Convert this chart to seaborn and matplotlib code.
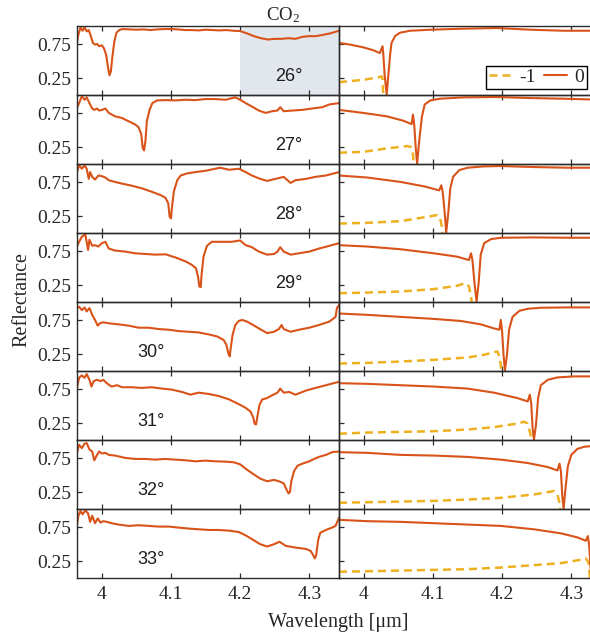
import matplotlib
matplotlib.use("Agg")
import matplotlib.pyplot as plt
import seaborn as sns
from matplotlib.lines import Line2D

# ---------------- data ----------------
angles = [26, 27, 28, 29, 30, 31, 32, 33]
angle_labels = ["26°", "27°", "28°", "29°", "30°", "31°", "32°", "33°"]
xticks = [4.0, 4.1, 4.2, 4.3]
xtick_labels = ["4", "4.1", "4.2", "4.3"]
yticks = [0.25, 0.75]
ytick_labels = ["0.25", "0.75"]
legend_labels = ["-1", "0"]
co2_band = [4.2, 4.343]

# measured reflectance (left column)
meas_wl_26 = [3.964, 3.966, 3.969, 3.972, 3.975, 3.978, 3.981, 3.984, 3.987, 3.990, 3.993, 3.996, 4.000, 4.003, 4.006, 4.009, 4.011, 4.013, 4.015, 4.018, 4.021, 4.025, 4.030, 4.040, 4.050, 4.060, 4.070, 4.080, 4.090, 4.100, 4.110, 4.120, 4.130, 4.140, 4.150, 4.160, 4.170, 4.180, 4.190, 4.200, 4.210, 4.220, 4.230, 4.240, 4.250, 4.260, 4.270, 4.280, 4.290, 4.300, 4.310, 4.320, 4.330, 4.343]
meas_r_26 = [0.77, 0.89, 1.00, 0.95, 1.00, 0.94, 0.96, 0.87, 0.77, 0.745, 0.755, 0.72, 0.735, 0.69, 0.60, 0.40, 0.29, 0.35, 0.55, 0.79, 0.92, 0.96, 0.975, 0.97, 0.965, 0.97, 0.96, 0.97, 0.975, 0.975, 0.97, 0.96, 0.96, 0.955, 0.965, 0.96, 0.955, 0.96, 0.95, 0.945, 0.91, 0.87, 0.84, 0.82, 0.83, 0.83, 0.84, 0.83, 0.86, 0.87, 0.87, 0.89, 0.91, 0.95]

meas_wl_27 = [3.964, 3.967, 3.971, 3.975, 3.978, 3.982, 3.986, 3.989, 3.993, 3.996, 4.000, 4.005, 4.010, 4.019, 4.029, 4.039, 4.048, 4.053, 4.057, 4.059, 4.061, 4.063, 4.065, 4.069, 4.073, 4.080, 4.092, 4.106, 4.121, 4.135, 4.150, 4.164, 4.179, 4.193, 4.200, 4.208, 4.217, 4.227, 4.237, 4.246, 4.254, 4.258, 4.263, 4.275, 4.290, 4.304, 4.319, 4.329, 4.343]
meas_r_27 = [0.83, 0.90, 1.00, 0.95, 0.985, 0.90, 0.82, 0.80, 0.82, 0.79, 0.80, 0.82, 0.755, 0.705, 0.68, 0.63, 0.585, 0.545, 0.44, 0.24, 0.20, 0.34, 0.63, 0.80, 0.90, 0.94, 0.945, 0.94, 0.95, 0.945, 0.96, 0.96, 0.95, 0.985, 0.95, 0.90, 0.85, 0.79, 0.755, 0.78, 0.79, 0.84, 0.78, 0.79, 0.80, 0.82, 0.84, 0.88, 0.90]

meas_wl_28 = [3.964, 3.967, 3.971, 3.975, 3.978, 3.981, 3.983, 3.986, 3.990, 3.995, 4.000, 4.005, 4.010, 4.019, 4.029, 4.043, 4.058, 4.072, 4.085, 4.092, 4.096, 4.098, 4.100, 4.101, 4.104, 4.109, 4.114, 4.123, 4.135, 4.150, 4.164, 4.171, 4.184, 4.198, 4.208, 4.217, 4.229, 4.239, 4.251, 4.263, 4.273, 4.280, 4.295, 4.309, 4.324, 4.343]
meas_r_28 = [0.90, 1.00, 0.95, 1.00, 0.95, 0.80, 0.90, 0.83, 0.79, 0.85, 0.84, 0.82, 0.78, 0.755, 0.73, 0.70, 0.66, 0.61, 0.56, 0.52, 0.44, 0.24, 0.215, 0.34, 0.61, 0.78, 0.85, 0.88, 0.90, 0.92, 0.95, 0.965, 0.935, 0.95, 0.90, 0.85, 0.80, 0.77, 0.80, 0.83, 0.74, 0.78, 0.80, 0.83, 0.85, 0.90]

meas_wl_29 = [3.964, 3.967, 3.971, 3.976, 3.980, 3.982, 3.986, 3.990, 3.995, 4.000, 4.005, 4.010, 4.019, 4.034, 4.048, 4.063, 4.077, 4.092, 4.106, 4.121, 4.130, 4.136, 4.139, 4.141, 4.143, 4.144, 4.147, 4.152, 4.159, 4.174, 4.188, 4.200, 4.208, 4.217, 4.227, 4.239, 4.249, 4.254, 4.258, 4.263, 4.273, 4.285, 4.300, 4.314, 4.329, 4.343]
meas_r_29 = [0.82, 0.89, 0.965, 1.00, 0.77, 0.92, 0.83, 0.84, 0.82, 0.87, 0.89, 0.79, 0.76, 0.745, 0.72, 0.71, 0.70, 0.705, 0.66, 0.60, 0.55, 0.50, 0.38, 0.23, 0.22, 0.38, 0.67, 0.83, 0.89, 0.89, 0.89, 0.91, 0.84, 0.81, 0.745, 0.70, 0.71, 0.745, 0.81, 0.745, 0.70, 0.72, 0.745, 0.79, 0.83, 0.87]

meas_wl_30 = [3.964, 3.967, 3.971, 3.975, 3.978, 3.982, 3.986, 3.990, 3.994, 3.997, 4.002, 4.010, 4.024, 4.039, 4.053, 4.068, 4.082, 4.097, 4.111, 4.126, 4.140, 4.155, 4.167, 4.176, 4.180, 4.183, 4.185, 4.186, 4.189, 4.193, 4.198, 4.203, 4.210, 4.217, 4.227, 4.239, 4.249, 4.256, 4.260, 4.263, 4.273, 4.285, 4.300, 4.314, 4.329, 4.338, 4.340, 4.343]
meas_r_30 = [0.93, 0.95, 0.90, 0.94, 0.88, 0.93, 0.83, 0.755, 0.67, 0.705, 0.72, 0.705, 0.69, 0.67, 0.64, 0.64, 0.62, 0.61, 0.59, 0.58, 0.57, 0.54, 0.51, 0.46, 0.39, 0.26, 0.215, 0.31, 0.53, 0.68, 0.74, 0.755, 0.73, 0.69, 0.63, 0.56, 0.58, 0.62, 0.68, 0.62, 0.58, 0.61, 0.64, 0.68, 0.73, 0.80, 0.93, 0.975]

meas_wl_31 = [3.964, 3.967, 3.971, 3.975, 3.978, 3.982, 3.985, 3.988, 3.993, 3.998, 4.002, 4.007, 4.014, 4.022, 4.029, 4.043, 4.058, 4.072, 4.087, 4.101, 4.116, 4.128, 4.140, 4.155, 4.169, 4.184, 4.198, 4.208, 4.215, 4.219, 4.221, 4.223, 4.225, 4.228, 4.232, 4.239, 4.246, 4.254, 4.258, 4.263, 4.271, 4.280, 4.295, 4.309, 4.324, 4.343]
meas_r_31 = [0.77, 0.92, 0.955, 0.92, 0.975, 0.89, 0.79, 0.87, 0.89, 0.87, 0.89, 0.84, 0.79, 0.81, 0.78, 0.78, 0.77, 0.78, 0.76, 0.745, 0.71, 0.67, 0.70, 0.68, 0.65, 0.60, 0.53, 0.475, 0.42, 0.33, 0.24, 0.23, 0.35, 0.52, 0.60, 0.62, 0.66, 0.70, 0.76, 0.70, 0.71, 0.67, 0.73, 0.77, 0.81, 0.86]

meas_wl_32 = [3.964, 3.967, 3.971, 3.975, 3.978, 3.982, 3.986, 3.989, 3.993, 3.996, 4.000, 4.005, 4.010, 4.019, 4.034, 4.048, 4.063, 4.077, 4.092, 4.106, 4.121, 4.135, 4.150, 4.164, 4.179, 4.191, 4.200, 4.210, 4.220, 4.229, 4.239, 4.249, 4.256, 4.263, 4.267, 4.270, 4.272, 4.274, 4.278, 4.283, 4.290, 4.300, 4.307, 4.314, 4.324, 4.333, 4.343]
meas_r_32 = [0.83, 0.95, 0.90, 0.965, 0.975, 0.88, 0.85, 0.72, 0.80, 0.85, 0.82, 0.83, 0.80, 0.79, 0.755, 0.74, 0.74, 0.73, 0.74, 0.73, 0.72, 0.705, 0.715, 0.705, 0.70, 0.69, 0.66, 0.58, 0.51, 0.45, 0.41, 0.43, 0.41, 0.38, 0.29, 0.23, 0.25, 0.41, 0.56, 0.64, 0.67, 0.705, 0.74, 0.77, 0.80, 0.84, 0.85]

meas_wl_33 = [3.964, 3.966, 3.969, 3.972, 3.976, 3.980, 3.983, 3.986, 3.990, 3.994, 3.998, 4.002, 4.007, 4.014, 4.024, 4.039, 4.053, 4.068, 4.082, 4.097, 4.111, 4.126, 4.140, 4.155, 4.169, 4.184, 4.198, 4.208, 4.217, 4.229, 4.239, 4.249, 4.257, 4.266, 4.280, 4.295, 4.302, 4.305, 4.308, 4.310, 4.313, 4.316, 4.324, 4.333, 4.338, 4.343]
meas_r_33 = [0.79, 0.92, 0.99, 0.94, 1.00, 0.955, 0.83, 0.92, 0.81, 0.88, 0.82, 0.84, 0.83, 0.81, 0.79, 0.77, 0.78, 0.77, 0.76, 0.76, 0.745, 0.73, 0.72, 0.71, 0.71, 0.70, 0.68, 0.63, 0.575, 0.50, 0.465, 0.50, 0.535, 0.475, 0.45, 0.43, 0.40, 0.35, 0.29, 0.34, 0.57, 0.67, 0.71, 0.745, 0.77, 0.89]

# simulated reflectance, order 0 (right column, solid)
sim0_wl_26 = [3.964, 3.980, 3.999, 4.014, 4.023, 4.027, 4.028, 4.030, 4.033, 4.035, 4.038, 4.040, 4.045, 4.052, 4.067, 4.096, 4.144, 4.192, 4.241, 4.289, 4.343]
sim0_r_26 = [0.77, 0.745, 0.705, 0.66, 0.62, 0.72, 0.62, 0.30, 0.005, 0.25, 0.60, 0.77, 0.87, 0.92, 0.95, 0.965, 0.98, 0.99, 0.965, 0.95, 0.95]
sim0_wl_27 = [3.964, 3.999, 4.033, 4.057, 4.069, 4.071, 4.073, 4.075, 4.077, 4.080, 4.084, 4.088, 4.096, 4.110, 4.144, 4.192, 4.241, 4.289, 4.343]
sim0_r_27 = [0.80, 0.755, 0.705, 0.64, 0.59, 0.73, 0.56, 0.24, 0.005, 0.34, 0.705, 0.88, 0.94, 0.965, 0.985, 0.99, 0.975, 0.965, 0.95]
sim0_wl_28 = [3.964, 4.005, 4.053, 4.087, 4.109, 4.112, 4.114, 4.117, 4.119, 4.122, 4.125, 4.129, 4.138, 4.150, 4.174, 4.198, 4.246, 4.295, 4.343]
sim0_r_28 = [0.85, 0.82, 0.755, 0.69, 0.63, 0.705, 0.61, 0.29, 0.005, 0.29, 0.66, 0.83, 0.93, 0.965, 0.985, 0.99, 0.975, 0.965, 0.965]
sim0_wl_29 = [3.964, 4.005, 4.053, 4.101, 4.135, 4.152, 4.155, 4.157, 4.160, 4.163, 4.166, 4.169, 4.174, 4.184, 4.198, 4.246, 4.295, 4.343]
sim0_r_29 = [0.84, 0.82, 0.78, 0.72, 0.67, 0.62, 0.72, 0.62, 0.28, 0.005, 0.28, 0.70, 0.87, 0.93, 0.95, 0.955, 0.95, 0.95]
sim0_wl_30 = [3.964, 4.005, 4.053, 4.101, 4.140, 4.169, 4.188, 4.196, 4.198, 4.200, 4.202, 4.204, 4.207, 4.210, 4.215, 4.225, 4.237, 4.256, 4.295, 4.343]
sim0_r_30 = [0.85, 0.83, 0.80, 0.77, 0.74, 0.69, 0.63, 0.61, 0.755, 0.58, 0.24, 0.005, 0.24, 0.61, 0.80, 0.89, 0.92, 0.935, 0.94, 0.94]
sim0_wl_31 = [3.964, 4.005, 4.053, 4.101, 4.150, 4.188, 4.222, 4.237, 4.240, 4.242, 4.244, 4.246, 4.249, 4.252, 4.256, 4.266, 4.280, 4.304, 4.343]
sim0_r_31 = [0.84, 0.83, 0.81, 0.79, 0.76, 0.70, 0.62, 0.57, 0.67, 0.55, 0.18, 0.005, 0.23, 0.62, 0.81, 0.89, 0.925, 0.94, 0.94]
sim0_wl_32 = [3.964, 4.005, 4.053, 4.101, 4.150, 4.198, 4.237, 4.266, 4.280, 4.283, 4.285, 4.287, 4.289, 4.291, 4.295, 4.300, 4.309, 4.319, 4.329, 4.343]
sim0_r_32 = [0.84, 0.83, 0.80, 0.79, 0.77, 0.73, 0.68, 0.62, 0.57, 0.67, 0.56, 0.19, 0.005, 0.24, 0.63, 0.80, 0.89, 0.92, 0.93, 0.935]
sim0_wl_33 = [3.964, 4.005, 4.053, 4.101, 4.150, 4.198, 4.246, 4.285, 4.309, 4.321, 4.324, 4.326, 4.328, 4.329, 4.332, 4.338, 4.343]
sim0_r_33 = [0.86, 0.84, 0.83, 0.81, 0.79, 0.77, 0.72, 0.66, 0.60, 0.55, 0.62, 0.475, 0.13, 0.005, 0.30, 0.85, 0.92]

# simulated reflectance, order -1 (right column, dashed)
simm1_wl_26 = [3.964, 3.980, 4.000, 4.020, 4.026, 4.027, 4.028]
simm1_r_26 = [0.19, 0.205, 0.225, 0.26, 0.275, 0.24, 0.0]
simm1_wl_27 = [3.964, 3.999, 4.033, 4.063, 4.068, 4.071, 4.072]
simm1_r_27 = [0.167, 0.18, 0.23, 0.265, 0.25, 0.15, 0.0]
simm1_wl_28 = [3.964, 4.005, 4.053, 4.092, 4.106, 4.110, 4.113, 4.114]
simm1_r_28 = [0.14, 0.15, 0.175, 0.24, 0.265, 0.23, 0.09, 0.0]
simm1_wl_29 = [3.964, 4.005, 4.053, 4.101, 4.135, 4.147, 4.152, 4.155, 4.156]
simm1_r_29 = [0.13, 0.14, 0.155, 0.19, 0.24, 0.28, 0.23, 0.08, 0.0]
simm1_wl_30 = [3.964, 4.005, 4.053, 4.101, 4.150, 4.174, 4.193, 4.196, 4.198, 4.199]
simm1_r_30 = [0.11, 0.12, 0.14, 0.165, 0.20, 0.24, 0.29, 0.215, 0.09, 0.0]
simm1_wl_31 = [3.964, 4.005, 4.053, 4.101, 4.150, 4.188, 4.220, 4.232, 4.237, 4.241, 4.242]
simm1_r_31 = [0.093, 0.11, 0.12, 0.13, 0.155, 0.19, 0.24, 0.27, 0.24, 0.08, 0.0]
simm1_wl_32 = [3.964, 4.005, 4.053, 4.101, 4.150, 4.198, 4.246, 4.275, 4.280, 4.283, 4.284]
simm1_r_32 = [0.093, 0.10, 0.11, 0.12, 0.14, 0.165, 0.215, 0.265, 0.215, 0.09, 0.0]
simm1_wl_33 = [3.964, 4.005, 4.053, 4.101, 4.150, 4.198, 4.246, 4.285, 4.314, 4.321, 4.325, 4.327]
simm1_r_33 = [0.093, 0.10, 0.11, 0.12, 0.13, 0.155, 0.19, 0.22, 0.27, 0.29, 0.23, 0.0]

measured = [(meas_wl_26, meas_r_26), (meas_wl_27, meas_r_27), (meas_wl_28, meas_r_28),
            (meas_wl_29, meas_r_29), (meas_wl_30, meas_r_30), (meas_wl_31, meas_r_31),
            (meas_wl_32, meas_r_32), (meas_wl_33, meas_r_33)]
order0 = [(sim0_wl_26, sim0_r_26), (sim0_wl_27, sim0_r_27), (sim0_wl_28, sim0_r_28),
          (sim0_wl_29, sim0_r_29), (sim0_wl_30, sim0_r_30), (sim0_wl_31, sim0_r_31),
          (sim0_wl_32, sim0_r_32), (sim0_wl_33, sim0_r_33)]
orderm1 = [(simm1_wl_26, simm1_r_26), (simm1_wl_27, simm1_r_27), (simm1_wl_28, simm1_r_28),
           (simm1_wl_29, simm1_r_29), (simm1_wl_30, simm1_r_30), (simm1_wl_31, simm1_r_31),
           (simm1_wl_32, simm1_r_32), (simm1_wl_33, simm1_r_33)]

# ---------------- style ----------------
sns.set_style("ticks")
plt.rcParams["font.family"] = ["Liberation Serif", "DejaVu Serif"]
plt.rcParams["mathtext.fontset"] = "custom"
plt.rcParams["mathtext.rm"] = "Liberation Serif"
plt.rcParams["mathtext.it"] = "Liberation Serif:italic"

RED = "#D95319"
YEL = "#EDB120"
SPINE = "#2b2b2b"
TXT = "#262626"

W, H = 590, 634
fig = plt.figure(figsize=(W / 100, H / 100), dpi=100)

left_px = 77
col_w = 262
top_px = 26
row_h = 69
xlim = (3.964, 4.343)
ylim = (0.0, 1.02)

for i in range(8):
    y_top = top_px + i * row_h
    bottom = 1 - (y_top + row_h) / H
    axL = fig.add_axes([left_px / W, bottom, col_w / W, row_h / H])
    axR = fig.add_axes([(left_px + col_w) / W, bottom, col_w / W, row_h / H])

    if i == 0:
        axL.axvspan(co2_band[0], co2_band[1], color="#e2e7ed", lw=0, zorder=0)

    mx, my = measured[i]
    sns.lineplot(x=mx, y=my, ax=axL, color=RED, linewidth=1.5,
                 estimator=None, sort=False)

    dx, dy = orderm1[i]
    sns.lineplot(x=dx, y=dy, ax=axR, color=YEL, linewidth=1.8,
                 estimator=None, sort=False)
    axR.lines[-1].set_dashes([3.2, 2.0])
    sx, sy = order0[i]
    sns.lineplot(x=sx, y=sy, ax=axR, color=RED, linewidth=1.5,
                 estimator=None, sort=False)

    for ax in (axL, axR):
        ax.set_xlim(*xlim)
        ax.set_ylim(*ylim)
        ax.set_xticks(xticks)
        ax.set_yticks(yticks)
        ax.set_xlabel("")
        ax.set_ylabel("")
        ax.tick_params(axis="both", direction="in", length=3.5, width=0.9,
                       color=SPINE, labelcolor=TXT, labelsize=14)
        ax.tick_params(axis="x", top=True, bottom=True, pad=6)
        ax.tick_params(axis="y", left=True, right=False, pad=4)
        for s in ax.spines.values():
            s.set_visible(True)
            s.set_color(SPINE)
            s.set_linewidth(1.0)
        ax.patch.set_alpha(0)
    axL.set_yticklabels(ytick_labels)
    axR.set_yticklabels([])
    if i == 7:
        axL.set_xticklabels(xtick_labels)
        axR.set_xticklabels(xtick_labels)
    else:
        axL.set_xticklabels([])
        axR.set_xticklabels([])

    tx = 4.270 if i < 4 else 4.071
    axL.text(tx, 0.28, angle_labels[i], ha="center", va="center", fontsize=13,
             family=["Liberation Sans", "DejaVu Sans"], color="#1e1e1e")

    if i == 0:
        axL.annotate("CO$_2$", xy=(4.262, 1.16), xycoords=("data", "axes fraction"),
                     ha="center", va="center", fontsize=13.5, color=TXT,
                     annotation_clip=False)
        handles = [Line2D([], [], color=YEL, lw=1.8, dashes=[3.2, 2.0]),
                   Line2D([], [], color=RED, lw=1.5)]
        leg = axR.legend(handles, legend_labels, ncol=2, loc="lower left",
                         bbox_to_anchor=(0.56, 0.087), frameon=True,
                         fancybox=False, edgecolor="black", framealpha=1,
                         fontsize=14, handlelength=1.2, columnspacing=0.45,
                         handletextpad=0.35, borderpad=0.15, borderaxespad=0)
        leg.get_frame().set_linewidth(1.0)

fig.text(338 / W, 1 - 622 / H, "Wavelength [μm]", ha="center", va="center",
         fontsize=14.5, color=TXT)
fig.text(22 / W, 1 - 300 / H, "Reflectance", ha="center", va="center",
         rotation=90, fontsize=14.5, color=TXT)

fig.savefig("out.png", dpi=100)
